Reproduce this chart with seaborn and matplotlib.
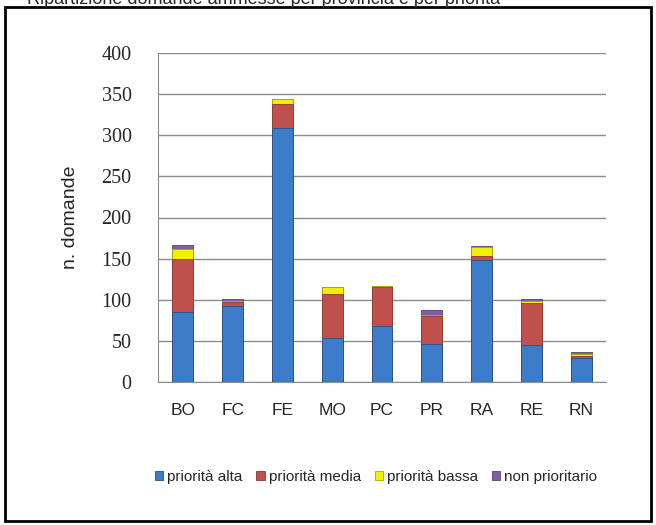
import numpy as np
import pandas as pd
import seaborn as sns
import matplotlib.pyplot as plt
from matplotlib.patches import Rectangle, Patch

province = ['BO', 'FC', 'FE', 'MO', 'PC', 'PR', 'RA', 'RE', 'RN']
alta = [85, 92, 309, 54, 68, 46, 148, 45, 29]
media = [65, 5, 29, 53, 47, 34, 5, 51, 3]
bassa = [12, 1, 6, 8, 2, 2, 11, 3, 2]
non_prior = [5, 3, 0, 0, 0, 5, 1, 2, 2]

serie = ['priorità alta', 'priorità media', 'priorità bassa', 'non prioritario']
colori = ['#3D7CC9', '#C0504D', '#F0F000', '#7F5FA8']
bordi = ['#25518A', '#8C3533', '#A8A800', '#5A4080']

df = pd.DataFrame({'Provincia': province, serie[0]: alta, serie[1]: media,
                   serie[2]: bassa, serie[3]: non_prior})
cum = df[serie].cumsum(axis=1)

sns.set_style('white')
fig = plt.figure(figsize=(6.56, 5.25), dpi=100)
ax = fig.add_axes([158/656, 1-382/525, (606-158)/656, (382-53)/525])

# layers drawn from the total down, each one covering the previous
for i in range(3, -1, -1):
    sns.barplot(x=df['Provincia'], y=cum[serie[i]], color=colori[i], width=0.42,
                edgecolor=bordi[i], linewidth=0.6, saturation=1, ax=ax, zorder=3)

ax.set_ylim(0, 400)
ax.set_xlim(-0.5, 8.5)
ax.set_yticks(range(0, 401, 50))
ax.yaxis.grid(True, color='#8C8C8C', linewidth=1, zorder=0)
ax.set_axisbelow(True)
for s in ['top', 'right']:
    ax.spines[s].set_visible(False)
ax.spines['left'].set_color('#8C8C8C')
ax.spines['bottom'].set_color('#8C8C8C')
ax.set_xticks(np.arange(-0.5, 9, 1), minor=True)
ax.tick_params(axis='x', which='minor', length=5, color='#8C8C8C', direction='out')
ax.tick_params(axis='x', which='major', length=0, pad=15)
ax.tick_params(axis='y', length=5, color='#8C8C8C', pad=14)
for t in ax.get_yticklabels():
    t.set_family('Liberation Serif')
    t.set_fontsize(14.5)
for t in ax.get_xticklabels():
    t.set_family('Liberation Sans')
    t.set_fontsize(12.5)
ax.set_xlabel('')
ax.set_ylabel('n. domande', fontsize=14, family='Liberation Sans', labelpad=16)

handles = [Patch(facecolor=c, edgecolor=b, linewidth=0.6) for c, b in zip(colori, bordi)]
fig.legend(handles, serie, loc='center', bbox_to_anchor=(376/656, 1-477/525), ncol=4,
           frameon=False, handlelength=0.55, handleheight=0.6, handletextpad=0.25,
           columnspacing=0.9, prop={'family': 'Liberation Sans', 'size': 11})

fig.text(27/656, 1-4/525, 'Ripartizione domande ammesse per provincia e per priorità',
         fontsize=13, family='Liberation Sans', va='baseline')
fig.patches.append(Rectangle((5/656, 4/525), 646/656, 514/525, transform=fig.transFigure,
                             fill=False, edgecolor='black', linewidth=2))

fig.savefig('out.png', dpi=100)
